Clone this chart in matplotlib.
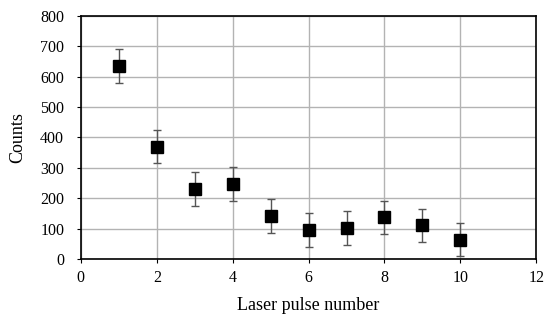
import matplotlib
matplotlib.use("Agg")
import matplotlib.pyplot as plt
import numpy as np

# data
pulse = np.array([1, 2, 3, 4, 5, 6, 7, 8, 9, 10])
counts = np.array([635, 370, 231, 248, 141, 94, 102, 137, 111, 63])
err = np.array([55, 55, 56, 56, 55, 56, 55, 55, 55, 55])

plt.rcParams['font.family'] = ['Liberation Serif', 'DejaVu Serif']

fig = plt.figure(figsize=(5.5, 3.22), dpi=100)
ax = fig.add_axes([0.147, 0.196, 0.828, 0.754])

ax.errorbar(pulse, counts, yerr=err, fmt='s', color='black', ms=8,
            ecolor='#555555', elinewidth=1, capsize=3, capthick=1, zorder=3)

ax.set_xlim(0, 12)
ax.set_ylim(0, 800)
ax.set_xticks(np.arange(0, 13, 2))
ax.set_yticks(np.arange(0, 801, 100))
ax.grid(True, color='#b3b3b3', linewidth=1)
ax.set_axisbelow(True)
ax.tick_params(axis='x', direction='out', length=3, labelsize=11.5, pad=5)
ax.tick_params(axis='y', direction='out', length=3, labelsize=11.5, pad=9)
for s in ax.spines.values():
    s.set_color('black')
    s.set_linewidth(1.2)

ax.set_xlabel('Laser pulse number', fontsize=13, labelpad=8)
ax.set_ylabel('Counts', fontsize=13, labelpad=10)

fig.savefig('out.png', dpi=100)
